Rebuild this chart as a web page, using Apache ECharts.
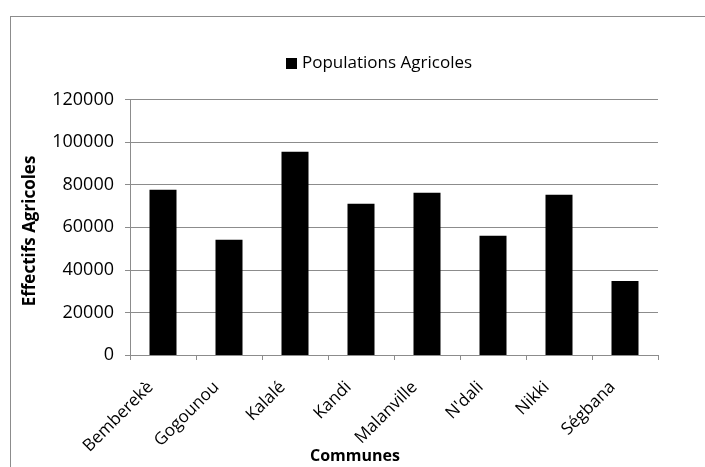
<!DOCTYPE html>
<html>
<head>
<meta charset="utf-8">
<script src="https://cdn.jsdelivr.net/npm/echarts@6/dist/echarts.min.js"></script>
<style>
html,body{margin:0;padding:0;width:705px;height:467px;overflow:hidden;background:#fff;}
#frame{position:absolute;left:10px;top:16px;width:800px;height:600px;border:1px solid #8c8c8c;box-sizing:border-box;}
#chart{position:absolute;left:0;top:0;width:705px;height:467px;}
</style>
</head>
<body>
<div id="frame"></div>
<div id="chart"></div>
<script>
const communes = ["Bemberekè","Gogounou","Kalalé","Kandi","Malanville","N'dali","Nikki","Ségbana"];
const populationsAgricoles = [77600, 54100, 95500, 71000, 76200, 56000, 75300, 34800];
const seriesName = "Populations Agricoles";
const yAxisTitle = "Effectifs Agricoles";
const xAxisTitle = "Communes";

const FONT = "Open Sans";
const chart = echarts.init(document.getElementById('chart'), null, {renderer:'canvas'});
chart.setOption({
  animation:false,
  backgroundColor:'transparent',
  textStyle:{fontFamily:FONT},
  legend:{
    data:[seriesName],
    left:281, top:50,
    icon:'rect', itemWidth:11, itemHeight:11, itemGap:6,
    textStyle:{fontFamily:FONT, fontSize:17, color:'#000'}
  },
  grid:{left:130, right:47, top:99.5, bottom:112, containLabel:false},
  xAxis:{
    type:'category',
    data:communes,
    axisLine:{lineStyle:{color:'#8c8c8c', width:1}},
    axisTick:{show:true, length:5, lineStyle:{color:'#8c8c8c'}},
    axisLabel:{rotate:45, margin:17, fontFamily:FONT, fontSize:17, color:'#000',
      formatter:function(v){return v + '    ';}}
  },
  yAxis:{
    type:'value',
    min:0, max:120000, interval:20000,
    axisLine:{show:true, lineStyle:{color:'#8c8c8c', width:1}},
    axisTick:{show:true, length:5, lineStyle:{color:'#8c8c8c'}},
    splitLine:{lineStyle:{color:'#8c8c8c', width:1}},
    axisLabel:{margin:16, fontFamily:FONT, fontSize:18, color:'#000', formatter:function(v){return String(v);}}
  },
  graphic:[
    {type:'text', x:30, y:231, rotation:Math.PI/2, style:{text:yAxisTitle, fontFamily:FONT, fontWeight:'bold', fontSize:17, fill:'#000', align:'center', verticalAlign:'middle'}},
    {type:'text', x:355, y:456, style:{text:xAxisTitle, fontFamily:FONT, fontWeight:'bold', fontSize:16, fill:'#000', align:'center', verticalAlign:'middle'}}
  ],
  series:[{
    name:seriesName,
    type:'bar',
    data:populationsAgricoles,
    barWidth:27,
    itemStyle:{color:'#000'}
  }]
});
</script>
</body>
</html>
